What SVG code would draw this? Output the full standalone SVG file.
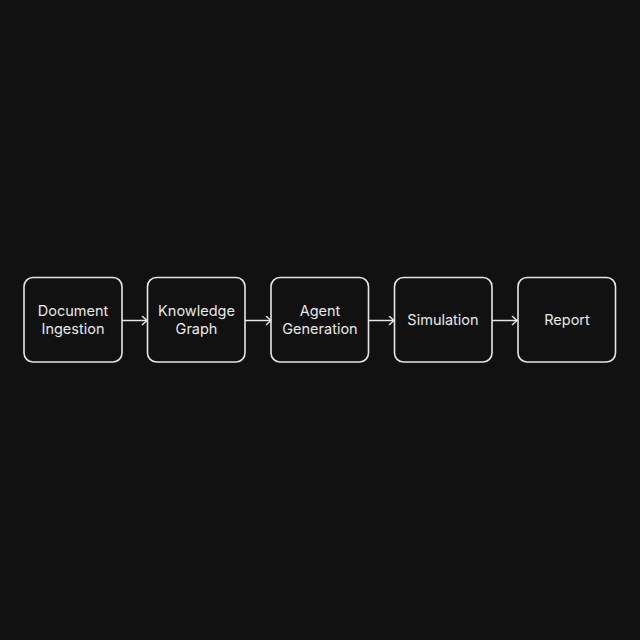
<svg xmlns="http://www.w3.org/2000/svg" width="640" height="640" viewBox="0 0 640 640">
<style>
.box{fill:#111111;stroke:#e6e6e6;stroke-width:1.6}
.lbl{font-family:Inter,"Noto Sans",sans-serif;font-size:14.5px;fill:#e8e8e8;text-anchor:middle}
.conn{stroke:#e6e6e6;stroke-width:1.5;fill:none}
</style>
<defs>
<marker id="arr" viewBox="0 0 10 10" refX="9" refY="5" markerWidth="10" markerHeight="10" markerUnits="userSpaceOnUse" orient="auto">
<path d="M4,0.5 L9,5 L4,9.5" fill="none" stroke="#e6e6e6" stroke-width="1.5"/>
</marker>
</defs>
<rect width="640" height="640" fill="#111111"/>
<g id="connectors">
<line class="conn" x1="122" y1="320.5" x2="147" y2="320.5" marker-end="url(#arr)"/>
<line class="conn" x1="245" y1="320.5" x2="271" y2="320.5" marker-end="url(#arr)"/>
<line class="conn" x1="368" y1="320.5" x2="394" y2="320.5" marker-end="url(#arr)"/>
<line class="conn" x1="492" y1="320.5" x2="517" y2="320.5" marker-end="url(#arr)"/>
</g>
<g id="node-document-ingestion">
<rect class="box" x="24" y="277.5" width="98" height="84.5" rx="9"/>
<text class="lbl" x="73" y="316">Document</text>
<text class="lbl" x="73" y="334">Ingestion</text>
</g>
<g id="node-knowledge-graph">
<rect class="box" x="147.5" y="277.5" width="97.5" height="84.5" rx="9"/>
<text class="lbl" x="196.5" y="316">Knowledge</text>
<text class="lbl" x="196.5" y="334">Graph</text>
</g>
<g id="node-agent-generation">
<rect class="box" x="271" y="277.5" width="97.5" height="84.5" rx="9"/>
<text class="lbl" x="320" y="316">Agent</text>
<text class="lbl" x="320" y="334">Generation</text>
</g>
<g id="node-simulation">
<rect class="box" x="394.5" y="277.5" width="97.5" height="84.5" rx="9"/>
<text class="lbl" x="443" y="325">Simulation</text>
</g>
<g id="node-report">
<rect class="box" x="518" y="277.5" width="97.5" height="84.5" rx="9"/>
<text class="lbl" x="567" y="325">Report</text>
</g>
</svg>
